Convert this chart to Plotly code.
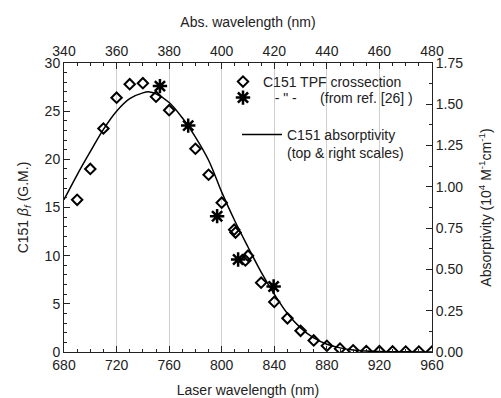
import plotly.graph_objects as go

# TPF cross-section (bottom & left scales)
tpf_laser_nm = [690, 700, 710, 720, 730, 740, 750, 760, 780, 790, 800, 809.5, 810.5,
                818, 820, 830, 840, 850, 860, 870, 880, 890, 900, 910, 920, 930, 940, 950, 960]
tpf_gm = [15.8, 19.0, 23.2, 26.4, 27.8, 27.9, 26.5, 25.1, 21.1, 18.4, 15.5, 12.7, 12.4,
          9.5, 10.0, 7.2, 5.2, 3.5, 2.2, 1.2, 0.65, 0.35, 0.18, 0.1, 0.08, 0.06, 0.05, 0.05, 0.05]

# reference [26] data
ref26_laser_nm = [753, 774.5, 796.5, 812.5, 839.5]
ref26_gm = [27.6, 23.5, 14.1, 9.6, 6.8]

# absorptivity (top & right scales)
abs_nm = [340, 345, 350, 355, 360, 365, 370, 372.5, 375, 380, 385, 390, 395, 400, 405,
          410, 415, 420, 425, 430, 435, 440, 445, 450, 455, 460, 470, 480]
abs_val = [0.922, 1.073, 1.213, 1.348, 1.458, 1.534, 1.569, 1.575, 1.563, 1.511, 1.418,
           1.301, 1.161, 0.968, 0.793, 0.636, 0.484, 0.350, 0.233, 0.146, 0.085, 0.047,
           0.025, 0.012, 0.006, 0.003, 0.001, 0.0]

FONT = "Liberation Sans, Arial, sans-serif"
TXT = "#222"

fig = go.Figure()
fig.add_trace(go.Scatter(
    x=tpf_laser_nm, y=tpf_gm, mode="markers", name="C151 TPF crossection",
    marker=dict(symbol="diamond-open", size=8, color="black", line=dict(width=2, color="black")),
    legend="legend"))
fig.add_trace(go.Scatter(
    x=ref26_laser_nm, y=ref26_gm, mode="markers",
    name="\u00a0\u00a0\u00a0- \" -\u00a0\u00a0\u00a0\u00a0\u00a0\u00a0(from ref. [26] )",
    marker=dict(symbol="asterisk-open", size=12, color="black", line=dict(width=2.5, color="black")),
    legend="legend3"))
fig.add_trace(go.Scatter(
    x=abs_nm, y=abs_val, mode="lines", xaxis="x2", yaxis="y2",
    name="C151 absorptivity<br>(top & right scales)",
    line=dict(color="black", width=1.5, shape="spline"),
    legend="legend2"))

axis_common = dict(showline=True, linecolor=TXT, linewidth=1, ticks="inside",
                   ticklen=6, tickcolor=TXT, tickwidth=1,
                   tickfont=dict(family=FONT, size=14, color=TXT),
                   zeroline=False, automargin=False)
minor_common = dict(ticks="inside", ticklen=3, tickcolor=TXT, showgrid=False)
title_font = dict(family=FONT, size=14, color=TXT)

def py(px):
    return (352 - px) / 289

def px_(px):
    return (px - 64) / 368

legend_common = dict(xanchor="left", yanchor="top", bgcolor="rgba(0,0,0,0)",
                     font=dict(family=FONT, size=14, color=TXT))

fig.update_layout(
    width=501, height=398,
    margin=dict(l=64, r=69, t=63, b=46),
    paper_bgcolor="white", plot_bgcolor="white",
    font=dict(family=FONT, size=14, color=TXT),
    xaxis=dict(range=[680, 960], dtick=40, tick0=680, showgrid=True, gridcolor="#cfcfcf",
               gridwidth=1, minor=dict(dtick=10, **minor_common),
               title=dict(text="Laser wavelength (nm)", standoff=14, font=title_font),
               **axis_common),
    yaxis=dict(range=[0, 30], dtick=5, showgrid=False,
               minor=dict(dtick=1, **minor_common),
               title=dict(text="C151 <i>β<sub>f</sub></i> (G.M.)", standoff=12, font=title_font),
               **axis_common),
    xaxis2=dict(range=[340, 480], dtick=20, overlaying="x", side="top", anchor="y",
                showgrid=False, minor=dict(dtick=5, **minor_common),
                title=dict(text="Abs. wavelength (nm)", standoff=12, font=title_font),
                **axis_common),
    yaxis2=dict(range=[0, 1.75], dtick=0.25, tickformat=".2f", overlaying="y", side="right",
                anchor="x", showgrid=False, minor=dict(dtick=0.125, **minor_common),
                title=dict(text="Absorptivity (10<sup>4</sup> M<sup>-1</sup>cm<sup>-1</sup>)",
                           standoff=18, font=title_font),
                **axis_common),
    legend=dict(x=px_(223), y=py(66), **legend_common),
    legend3=dict(x=px_(223), y=py(82), **legend_common),
    legend2=dict(x=px_(237), y=py(119), itemwidth=40, valign="top", **legend_common),
    showlegend=True,
)

fig.write_html("out.html")
